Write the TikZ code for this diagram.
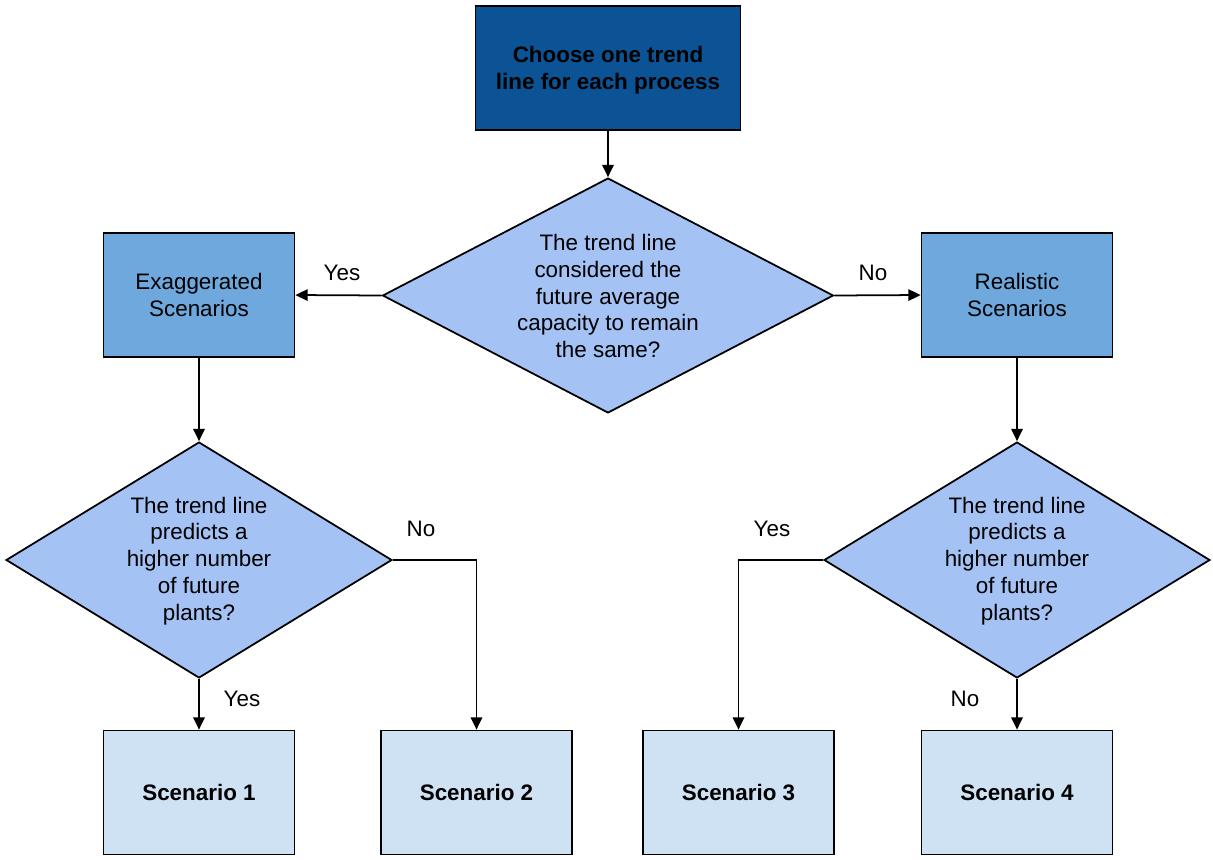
\documentclass[tikz,border=0pt]{standalone}
\usepackage{fontspec}
\setmainfont{Liberation Sans}
\usetikzlibrary{shapes.geometric,arrows.meta}
\definecolor{topblue}{HTML}{0B5394}
\definecolor{midblue}{HTML}{6FA8DC}
\definecolor{decblue}{HTML}{A4C2F4}
\definecolor{endblue}{HTML}{CFE2F3}
\begin{document}
\begin{tikzpicture}[x=0.02cm,y=-0.02cm,
  every node/.style={font=\fontsize{12.75}{15.3}\selectfont, align=center},
  box/.style={draw=black, line width=1pt, rectangle, inner sep=0pt,
    minimum width=3.82cm, minimum height=2.48cm},
  startbox/.style={box, fill=topblue, minimum width=5.3cm},
  scenbox/.style={box, fill=midblue},
  endbox/.style={box, fill=endblue, font=\fontsize{12.75}{15.3}\selectfont\bfseries},
  decision/.style={draw=black, line width=1pt, diamond, fill=decblue, inner sep=0pt,
    minimum width=7.72cm, minimum height=4.72cm},
  bigdecision/.style={decision, minimum width=9.02cm, minimum height=4.7cm},
  lbl/.style={inner sep=0pt},
  arr/.style={line width=1pt, -{Triangle[length=7pt,width=6.5pt]}}
]
\useasboundingbox (0,0) rectangle (1213,859);

% top
\node[startbox] (start) at (608,68) {};
\node[font=\fontsize{12.75}{15.3}\selectfont\bfseries] (starttext) at (608,70.5) {Choose one trend\\line for each process};
\node[bigdecision] (d1) at (608,295.5) {};
\node (d1text) at (608,296) {The trend line\\considered the\\future average\\capacity to remain\\the same?};

% second level
\node[scenbox] (exag) at (199,295) {Exaggerated\\Scenarios};
\node[scenbox] (real) at (1017,295) {Realistic\\Scenarios};

\node[decision] (d2) at (199,560) {};
\node (d2text) at (199,561) {The trend line\\predicts a\\higher number\\of future\\plants?};
\node[decision] (d3) at (1017,560) {};
\node (d3text) at (1017,561) {The trend line\\predicts a\\higher number\\of future\\plants?};

% outcomes
\node[endbox] (s1) at (199,792.5) {Scenario 1};
\node[endbox] (s2) at (476.5,792.5) {Scenario 2};
\node[endbox] (s3) at (738.5,792.5) {Scenario 3};
\node[endbox] (s4) at (1017,792.5) {Scenario 4};

% connectors
\draw[arr] (start.south) -- (d1.north);
\draw[arr] (d1.west) -- (exag.east);
\draw[arr] (d1.east) -- (real.west);
\draw[arr] (exag.south) -- (d2.north);
\draw[arr] (real.south) -- (d3.north);
\draw[arr] (d2.south) -- (s1.north);
\draw[arr] (d2.east) -| (s2.north);
\draw[arr] (d3.west) -| (s3.north);
\draw[arr] (d3.south) -- (s4.north);

% branch labels
\node[lbl] (l1) at (342,273) {Yes};
\node[lbl] (l2) at (873,273) {No};
\node[lbl] (l3) at (421,529) {No};
\node[lbl] (l4) at (772,529) {Yes};
\node[lbl] (l5) at (242,699) {Yes};
\node[lbl] (l6) at (965,699) {No};
\end{tikzpicture}
\end{document}
